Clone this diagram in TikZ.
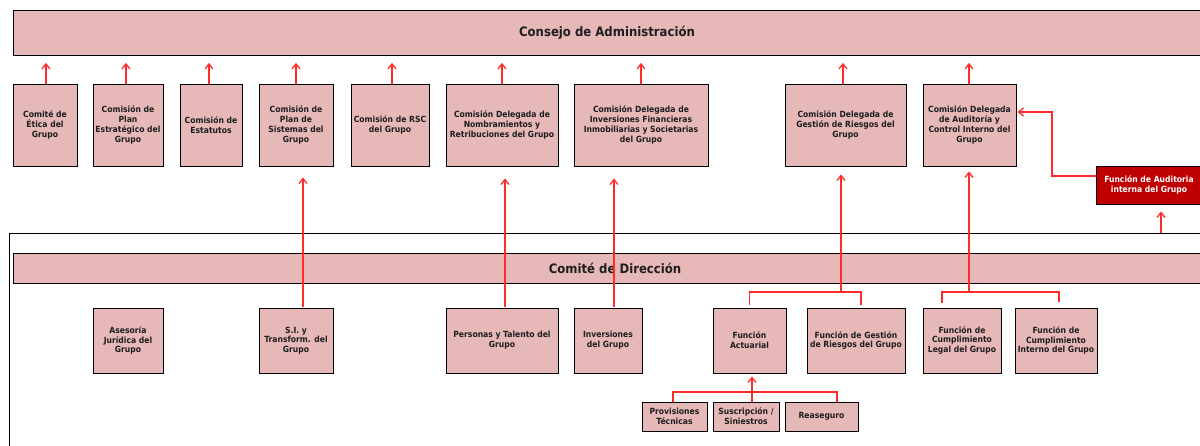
\documentclass[tikz,border=0pt]{standalone}
\usepackage{fontspec}
\setmainfont{DejaVu Sans Condensed}[BoldFont={DejaVu Sans Condensed Bold}]
\usetikzlibrary{arrows.meta}
\definecolor{boxpink}{HTML}{E6B8B7}
\definecolor{txtgray}{HTML}{1E1E1E}
\definecolor{linered}{HTML}{FF2A2A}
\definecolor{darkred}{HTML}{C00000}
\tikzset{
  orgbox/.style={draw=black, line width=0.9pt, fill=boxpink, inner sep=0pt, align=center,
    text=txtgray, font=\bfseries\fontsize{8.5}{9.7}\selectfont},
  redbox/.style={orgbox, fill=darkred, text=white},
  bigtitle/.style={text=txtgray, font=\bfseries\fontsize{13}{15}\selectfont},
  redline/.style={draw=linered, line width=1.5pt},
  arr/.style={redline, -{Straight Barb[length=5pt,width=8pt,line width=1.3pt]}},
  framel/.style={draw=black, line width=0.9pt}
}
\begin{document}
\begin{tikzpicture}[x=1pt,y=-1pt]
\useasboundingbox (0,0) rectangle (1200,446);
\clip (0,0) rectangle (1200,446);
% top board
\node[orgbox, minimum width=1190, minimum height=45, anchor=north west] (consejo) at (13,10) {};
\node[bigtitle] (consejot) at (607,33) {Consejo de Administración};
% row 1
\node[orgbox, minimum width=64, minimum height=82] (etica) at (45,125) {Comité de\\Ética del\\Grupo};
\node[orgbox, minimum width=70, minimum height=82] (plan) at (128,125) {Comisión de\\Plan\\Estratégico del\\Grupo};
\node[orgbox, minimum width=62, minimum height=82] (estat) at (211,125) {Comisión de\\Estatutos};
\node[orgbox, minimum width=74, minimum height=82] (sist) at (296,125) {Comisión de\\Plan de\\Sistemas del\\Grupo};
\node[orgbox, minimum width=78, minimum height=82] (rsc) at (390,125) {Comisión de RSC\\del Grupo};
\node[orgbox, minimum width=112, minimum height=82] (nomb) at (502,125) {Comisión Delegada de\\Nombramientos y\\Retribuciones del Grupo};
\node[orgbox, minimum width=134, minimum height=82] (inv) at (641,125) {Comisión Delegada de\\Inversiones Financieras\\Inmobiliarias y Societarias\\del Grupo};
\node[orgbox, minimum width=121, minimum height=82] (ries) at (845.5,125) {Comisión Delegada de\\Gestión de Riesgos del\\Grupo};
\node[orgbox, minimum width=93, minimum height=82] (aud) at (969.5,125) {Comisión Delegada\\de Auditoría y\\Control Interno del\\Grupo};
\node[redbox, minimum width=110, minimum height=38, anchor=west] (fai) at (1096,185) {};
\node[text=white, align=center, font=\bfseries\fontsize{8.5}{9.7}\selectfont] (fait) at (1149,185) {Función de Auditoria\\interna del Grupo};
% arrows to board
\foreach \n/\dx in {etica/1,plan/-2,estat/-2,sist/0,rsc/2,nomb/0,inv/0,ries/-2.5,aud/-0.5}{
  \draw[arr, shorten >=7pt] ([xshift=\dx pt]\n.north) -- ([xshift=\dx pt]\n.north |- consejo.south);
}
% frame of Dirección
\coordinate (frtl) at (9,233);
\draw[framel] (9,460) -- (frtl) -- (1210,233);
\node[orgbox, minimum width=1200, minimum height=30, anchor=north west] (direc) at (13,253) {};
\node[bigtitle] (direct) at (615,268) {Comité de Dirección};
% row 2
\node[orgbox, minimum width=70, minimum height=65] (ases) at (128,340.5) {Asesoría\\Jurídica del\\Grupo};
\node[orgbox, minimum width=74, minimum height=65] (si) at (296,340.5) {S.I. y\\Transform. del\\Grupo};
\node[orgbox, minimum width=112, minimum height=65] (pers) at (502,340.5) {Personas y Talento del\\Grupo};
\node[orgbox, minimum width=68, minimum height=65] (invg) at (608,340.5) {Inversiones\\del Grupo};
\node[orgbox, minimum width=73, minimum height=65] (act) at (749.5,340.5) {Función\\Actuarial};
\node[orgbox, minimum width=98, minimum height=65] (fgr) at (856,340.5) {Función de Gestión\\de Riesgos del Grupo};
\node[orgbox, minimum width=78, minimum height=65] (cl) at (962,340.5) {Función de\\Cumplimiento\\Legal del Grupo};
\node[orgbox, minimum width=82, minimum height=65] (ci) at (1056,340.5) {Función de\\Cumplimiento\\Interno del Grupo};
% row 3
\node[orgbox, minimum width=65, minimum height=29] (prov) at (674.5,416.5) {Provisiones\\Técnicas};
\node[orgbox, minimum width=66, minimum height=29] (susc) at (746,416.5) {Suscripción /\\Siniestros};
\node[orgbox, minimum width=73, minimum height=29] (rea) at (821.5,416.5) {Reaseguro};
% long arrows from row 2 to row 1
\draw[arr, shorten >=11pt] ([xshift=7pt,yshift=1pt]si.north) -- ([xshift=7pt]si.north |- sist.south);
\draw[arr, shorten >=12pt] ([xshift=3pt,yshift=1pt]pers.north) -- ([xshift=3pt]pers.north |- nomb.south);
\draw[arr, shorten >=12pt] ([xshift=6pt,yshift=1pt]invg.north) -- ([xshift=6pt]invg.north |- inv.south);
% risks
\coordinate (jr) at (841,292);
\draw[redline] ([yshift=3pt]act.north) |- (jr) -| ([xshift=5pt,yshift=3pt]fgr.north);
\draw[arr, shorten >=8pt] (jr) -- (jr |- ries.south);
% audit / compliance
\coordinate (ja) at (969,292);
\draw[redline] ([xshift=-20pt,yshift=5pt]cl.north) |- (ja) -| ([xshift=3pt,yshift=6pt]ci.north);
\draw[arr, shorten >=5pt] (ja) -- (ja |- aud.south);
% internal audit function
\coordinate (ft) at (1161,233);
\draw[arr, shorten >=7pt] (ft) -- (ft |- fai.south);
\coordinate (ab) at (1052,112);
\draw[arr, shorten >=1pt] ([yshift=9pt]fai.west) -| (ab) -- (ab -| aud.east);
% actuarial sub-units
\coordinate (jb) at (752,392);
\draw[redline] ([xshift=-1.5pt]prov.north) |- (jb) -| ([xshift=15.5pt]rea.north);
\draw[arr, shorten >=3pt] ([xshift=6pt]susc.north) -- ([xshift=6pt]susc.north |- act.south);
\end{tikzpicture}
\end{document}
